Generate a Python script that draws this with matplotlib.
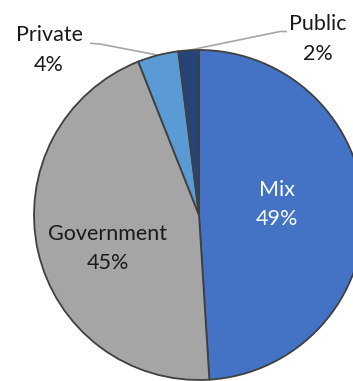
import numpy as np
import matplotlib
matplotlib.use("Agg")
import matplotlib.pyplot as plt

labels = ["Mix", "Government", "Private", "Public"]
values = [49, 45, 4, 2]
colors = ["#4472C4", "#A5A5A5", "#5B9BD5", "#264478"]
text_colors = ["white", "#1a1a1a", "#1a1a1a", "#1a1a1a"]

W, H = 353, 381
fig = plt.figure(figsize=(W / 100, H / 100), dpi=100)
ax = fig.add_axes([0, 0, 1, 1])

cx, cy, R = 199, 215, 165  # pixel center & radius

wedges, _ = ax.pie(values, colors=colors, startangle=90, counterclock=False,
                   radius=1, center=(0, 0),
                   wedgeprops=dict(edgecolor="#404040", linewidth=1.3))

ax.set_xlim((0 - cx) / R, (W - cx) / R)
ax.set_ylim((cy - H) / R, (cy - 0) / R)
ax.set_aspect("equal")
ax.axis("off")

def px(x, y):
    return ((x - cx) / R, (cy - y) / R)

fs = 15.5
font = "Lato"
inside_pos = {"Mix": px(277, 204.5), "Government": px(107.5, 248.5)}
outside_pos = {"Private": px(49, 50), "Public": px(317.5, 39)}
elbows = {"Private": [px(100, 44), px(90, 43.3)], "Public": [px(280, 31.5), px(287, 31.5)]}

for w, lab, v, tc in zip(wedges, labels, values, text_colors):
    txt = f"{lab}\n{v}%"
    if lab in inside_pos:
        x, y = inside_pos[lab]
    else:
        x, y = outside_pos[lab]
        mid = np.deg2rad((w.theta1 + w.theta2) / 2)
        pts = [(np.cos(mid), np.sin(mid))] + elbows[lab]
        xs, ys = zip(*pts)
        ax.plot(xs, ys, color="#A6A6A6", lw=1.2, solid_capstyle="butt", zorder=0.5)
    ax.text(x, y, txt, ha="center", va="center", fontsize=fs, color=tc,
            family=font, linespacing=1.6)

fig.savefig("out.png", dpi=100)
